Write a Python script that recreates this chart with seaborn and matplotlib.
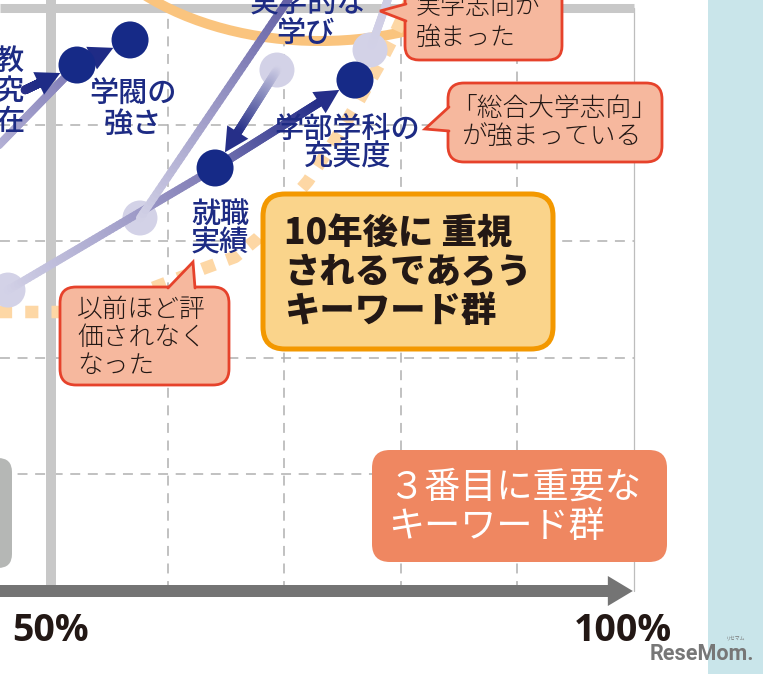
import numpy as np
import matplotlib
matplotlib.use('Agg')
import matplotlib.pyplot as plt
import matplotlib.colors as mcolors
import seaborn as sns
from matplotlib.collections import LineCollection
from matplotlib.patches import FancyBboxPatch, Polygon, Ellipse, Rectangle, FancyArrow

# ---------------- data (both axes in %, 50-100) ----------------
tick_vals = [50, 100]
tick_labels = ['50%', '100%']
grid_vals = [60, 70, 80, 90]

# new (current) positions of keywords - dark circles
new_labels = ['教育研究', '学閥の強さ', '実学的な学び', '学部学科の充実度', '就職実績', '実学志向']
new_x = [52.23, 56.78, 71.78, 76.07, 64.07, 79.93]
new_y = [95.11, 97.26, 102.83, 93.82, 86.28, 103.69]

# old positions - light circles
old_x = [42.20, 46.31, 57.63, 69.38, 77.36]
old_y = [84.82, 75.81, 81.99, 94.68, 96.40]

# trails (old -> new) without arrow heads
trail_x0 = [42.20, 46.31, 57.63, 77.36]
trail_y0 = [84.82, 75.81, 81.99, 96.40]
trail_x1 = [52.23, 64.07, 71.78, 79.93]
trail_y1 = [95.11, 86.28, 102.83, 103.69]

# arrows (with heads)
arrow_x0 = [47.77, 52.23, 69.38, 64.07]
arrow_y0 = [92.97, 95.11, 94.68, 86.28]
arrow_x1 = [52.23, 56.78, 64.07, 76.07]
arrow_y1 = [95.11, 97.26, 86.28, 93.82]

# ---------------- style ----------------
sns.set_style('white')
plt.rcParams['font.family'] = ['Noto Sans CJK JP', 'DejaVu Sans']

PX = 11.66  # pixels per percent
NAVY = '#162a87'
LIGHT = '#d3d2e7'
TXT_NAVY = '#1d2b84'
DARKTXT = '#231815'

fig = plt.figure(figsize=(7.63, 6.74), dpi=100)
fig.patch.set_facecolor('white')
ax = fig.add_axes([0, 0, 1, 1])
ax.axis('off')
axp = fig.add_axes([0, 0, 1, 1], zorder=10)
axp.set_xlim(0, 763)
axp.set_ylim(674, 0)
axp.axis('off')
axp.patch.set_alpha(0)

XMIN, XMAX = 50 - 51 / PX, 50 + 712 / PX
YMIN, YMAX = 50 - 83 / PX, 50 + 591 / PX

# grid
for g in grid_vals:
    ax.plot([g, g], [50, 100], color='#b0b0b0', lw=1.1, dashes=(6.5, 5), zorder=1)
    ax.plot([XMIN, 100], [g, g], color='#b0b0b0', lw=1.1, dashes=(6.5, 5), zorder=1)
ax.plot([XMIN, 100], [100, 100], color='#c8c8c8', lw=6.5, solid_capstyle='butt', zorder=1.5)
ax.plot([50, 50], [50, YMAX], color='#c8c8c8', lw=7.2, solid_capstyle='butt', zorder=1.5)
ax.plot([100, 100], [50, 100], color='#bdbdbd', lw=0.9, zorder=1.4)
ax.add_patch(FancyArrow(XMIN - 0.2, 50, 100 - XMIN + 0.2 - 0.1, 0, width=12 / PX,
                        head_width=30 / PX, head_length=25 / PX, length_includes_head=True,
                        color='#747474', lw=0, zorder=2))
for v, lab, dx in zip(tick_vals, tick_labels, [0, -8]):
    ax.annotate(lab, xy=(v, 50), xytext=(dx, -29), textcoords='offset points',
                ha='center', va='center', fontsize=27, fontweight='bold',
                family=['Open Sans', 'DejaVu Sans'], color=DARKTXT, zorder=5)

# decorative region outlines (pixel coordinates)
T = axp.transData
ax.add_patch(Ellipse((320, -119), 500, 320, fc='none', ec='#fac47e', lw=7.2,
                     transform=T, zorder=1.8))
dot_px = [(-5, 312), (60, 312), (105, 303), (150, 289), (205, 268), (235, 257), (258, 238),
          (283, 210), (308, 181), (335, 140), (357, 104), (378, 67), (393, 38), (405, 12), (412, -5)]
ax.plot([p[0] for p in dot_px], [p[1] for p in dot_px], color='#fdd7a5', lw=9,
        dashes=(1.05, 1.05), solid_capstyle='butt', dash_capstyle='butt', transform=T, zorder=1.9)


def grad_line(p0, p1, c0, c1, lw, z, n=60):
    t = np.linspace(0, 1, n + 1)
    pts = np.column_stack([p0[0] + (p1[0] - p0[0]) * t, p0[1] + (p1[1] - p0[1]) * t])
    segs = np.stack([pts[:-1], pts[1:]], axis=1)
    a = np.array(mcolors.to_rgb(c0))
    b = np.array(mcolors.to_rgb(c1))
    tm = (t[:-1] + t[1:]) / 2
    cols = a[None, :] * (1 - tm[:, None]) + b[None, :] * tm[:, None]
    ax.add_collection(LineCollection(segs, colors=cols, linewidths=lw, capstyle='round', zorder=z))


# trails
trail_cols = [('#cfcde5', '#7e7ab6'), ('#d3d2e7', '#7f7bb5'), ('#d3d2e7', '#5a56a0'), ('#d3d2e7', '#cbc9e3')]
for x0, y0, x1, y1, (c0, c1) in zip(trail_x0, trail_y0, trail_x1, trail_y1, trail_cols):
    grad_line((x0, y0), (x1, y1), c0, c1, 5.8, 3)

# arrows
R_DARK = 18.5 / PX
HL = 24 / PX
HW = 25 / PX
arrow_cols = [('#2c3189', '#1f2b86'), ('#5d5aa5', '#1f2b86'), ('#d3d2e7', '#262f88'), ('#7a77b3', '#252e89')]
for x0, y0, x1, y1, (c0, c1) in zip(arrow_x0, arrow_y0, arrow_x1, arrow_y1, arrow_cols):
    p0 = np.array([x0, y0]); p1 = np.array([x1, y1])
    u = (p1 - p0) / np.linalg.norm(p1 - p0)
    nrm = np.array([-u[1], u[0]])
    tip = p1 - u * R_DARK
    base = tip - u * HL
    grad_line(p0, base + u * 0.2, c0, c1, 6.3, 3.2)
    ax.add_patch(Polygon([tip, base + nrm * HW / 2, base - nrm * HW / 2], closed=True,
                         fc=c1, ec='none', zorder=3.5))

# circles
sns.scatterplot(x=old_x, y=old_y, ax=ax, s=635, color=LIGHT, edgecolor='none', linewidth=0,
                zorder=2.5, legend=False)
sns.scatterplot(x=new_x, y=new_y, ax=ax, s=710, color=NAVY, edgecolor='none', linewidth=0,
                zorder=4, legend=False)
ax.set_xlim(XMIN, XMAX)
ax.set_ylim(YMIN, YMAX)
ax.axis('off')

# ---------------- annotations (pixel coordinates) ----------------
axp.add_patch(Rectangle((708, 0), 55, 674, fc='#c9e5ea', ec='none', zorder=0))


def rbox(x0, y0, x1, y1, r, fc, ec='none', lw=0, z=5):
    axp.add_patch(FancyBboxPatch((x0, y0), x1 - x0, y1 - y0,
                                 boxstyle=f'round,pad=0,rounding_size={r}',
                                 fc=fc, ec=ec, lw=lw, zorder=z))


def tail(b1, tip, b2, inner, fc, ec, lw, z=5):
    i1 = (b1[0] + inner[0], b1[1] + inner[1])
    i2 = (b2[0] + inner[0], b2[1] + inner[1])
    axp.add_patch(Polygon([b1, tip, b2, i2, i1], closed=True, fc=fc, ec='none', zorder=z + 0.1))
    axp.plot([b1[0], tip[0], b2[0]], [b1[1], tip[1], b2[1]], color=ec, lw=lw,
             solid_joinstyle='miter', zorder=z + 0.2)


SAL = '#f6b89e'
RED = '#e6422b'
LW_BOX = 'light'
# 実学志向が強まった
rbox(405, -30, 562, 60, 14, SAL, RED, 2.0)
tail((406, 4), (380, 11), (406, 21), (5, 0), SAL, RED, 2.0)
axp.text(416, 7, '実学志向が', fontsize=18, fontweight=LW_BOX, color=DARKTXT, ha='left', va='center', zorder=6)
axp.text(416, 37, '強まった', fontsize=18, fontweight=LW_BOX, color=DARKTXT, ha='left', va='center', zorder=6)

# 総合大学志向
rbox(448, 83, 662, 162, 16, SAL, RED, 2.0)
tail((449, 107), (425, 129), (449, 131), (5, 0), SAL, RED, 2.0)
axp.text(451, 109, '「総合大学志向」', fontsize=18.5, fontweight=LW_BOX, color=DARKTXT, ha='left', va='center', zorder=6)
axp.text(461, 137, 'が強まっている', fontsize=18.5, fontweight=LW_BOX, color=DARKTXT, ha='left', va='center', zorder=6)

# 以前ほど評価されなくなった
rbox(60, 287, 229, 385, 16, SAL, RED, 2.0)
tail((168, 288), (193, 262), (195, 288), (0, 5), SAL, RED, 2.0)
for txt, yy in zip(['以前ほど評', '価されなく', 'なった'], [310, 338, 366]):
    axp.text(77, yy, txt, fontsize=18.5, fontweight=LW_BOX, color=DARKTXT, ha='left', va='center', zorder=6)

# 10年後に重視されるであろうキーワード群
rbox(263, 194, 553, 349, 22, '#fad48b', '#f39800', 3.6)
for txt, yy in zip(['10年後に 重視', 'されるであろう', 'キーワード群'], [233, 272, 311]):
    axp.text(284, yy, txt, fontsize=25.5, fontweight='heavy', color=DARKTXT,
             ha='left', va='center', zorder=6)

# ３番目に重要なキーワード群
rbox(372, 450, 667, 562, 18, '#ef8761')
axp.text(388, 488, '３番目に重要な', fontsize=26, color='white', ha='left', va='center', zorder=6)
axp.text(388, 527, 'キーワード群', fontsize=26, color='white', ha='left', va='center', zorder=6)

# gray box on the left
rbox(-30, 458, 12, 568, 14, '#b5b7b5')

# keyword labels
lab_kw = dict(fontsize=21, fontweight='medium', color=TXT_NAVY, ha='center', va='center', zorder=7)
axp.text(133, 94, '学閥の', **lab_kw)
axp.text(133, 124, '強さ', **lab_kw)
axp.text(347, 129, '学部学科の', **lab_kw)
axp.text(348, 157, '充実度', **lab_kw)
axp.text(220, 214, '就職', **lab_kw)
axp.text(220, 243, '実績', **lab_kw)
axp.text(308, 4, '実学的な', **lab_kw)
axp.text(305, 33, '学び', **lab_kw)
for txt, yy in zip(['教', '究', '在'], [61, 91, 121]):
    axp.text(24, yy, txt, fontsize=21, fontweight='medium', color=TXT_NAVY, ha='right', va='center', zorder=7)

# logo
axp.text(702, 654, 'ReseMom.', fontsize=15.5, fontweight='bold', family=['Roboto', 'DejaVu Sans'],
         color='#777777', ha='center', va='center', zorder=8)
axp.text(736, 638, 'リセマム', fontsize=3.5, color='#777777', ha='center', va='center', zorder=8)

fig.savefig('out.png', dpi=100)
